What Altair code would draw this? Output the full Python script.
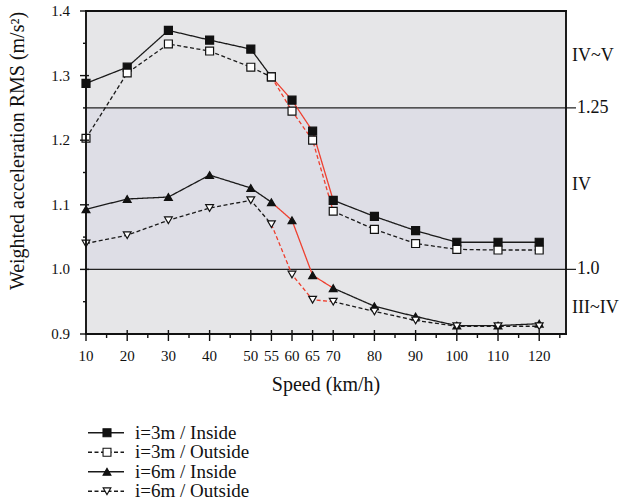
import altair as alt
import pandas as pd

# ---------------- data ----------------
speeds = [10, 20, 30, 40, 50, 55, 60, 65, 70, 80, 90, 100, 110, 120]
in3 = [1.288, 1.313, 1.370, 1.355, 1.341, 1.298, 1.262, 1.214, 1.107, 1.082, 1.060, 1.042, 1.042, 1.042]
out3 = [1.203, 1.304, 1.349, 1.338, 1.313, 1.298, 1.245, 1.200, 1.090, 1.062, 1.040, 1.031, 1.030, 1.030]
in6 = [1.093, 1.109, 1.112, 1.146, 1.126, 1.104, 1.076, 0.991, 0.971, 0.943, 0.927, 0.913, 0.913, 0.916]
out6 = [1.040, 1.053, 1.076, 1.095, 1.107, 1.070, 0.992, 0.953, 0.950, 0.935, 0.921, 0.912, 0.912, 0.912]
series_names = ["i=3m / Inside", "i=3m / Outside", "i=6m / Inside", "i=6m / Outside"]
series_values = [in3, out3, in6, out6]
highlight_range = (55, 70)

limit_values = [1.25, 1.0]
limit_labels = ["1.25", "1.0"]
zone_labels = ["IV~V", "IV", "III~IV"]
zone_label_y = [1.33, 1.13, 0.94]
zone_bounds = [(1.25, 1.4), (1.0, 1.25), (0.9, 1.0)]
zone_kind = ["outer", "middle", "outer"]

x_major = [10, 20, 30, 40, 50, 55, 60, 65, 70, 80, 90, 100, 110, 120]
x_minor = [15, 25, 35, 45, 75, 85, 95, 105, 115, 125]
y_major = [0.9, 1.0, 1.1, 1.2, 1.3, 1.4]
y_major_labels = ["0.9", "1.0", "1.1", "1.2", "1.3", "1.4"]
y_minor = [0.95, 1.05, 1.15, 1.25, 1.35]
x_title = "Speed (km/h)"
y_title = "Weighted acceleration RMS (m/s²)"

# ---------------- tables ----------------
rows = []
for name, vals in zip(series_names, series_values):
    for s, v in zip(speeds, vals):
        if s <= highlight_range[0]:
            rows.append(dict(series=name, seg=name + "-a", part="normal", speed=s, value=v))
        if highlight_range[0] <= s <= highlight_range[1]:
            rows.append(dict(series=name, seg=name + "-b", part="red", speed=s, value=v))
        if s >= highlight_range[1]:
            rows.append(dict(series=name, seg=name + "-c", part="normal", speed=s, value=v))
lines_df = pd.DataFrame(rows)

pts_df = pd.DataFrame(
    [dict(series=n, speed=s, value=v) for n, vals in zip(series_names, series_values) for s, v in zip(speeds, vals)]
)
zones_df = pd.DataFrame(dict(lo=[b[0] for b in zone_bounds], hi=[b[1] for b in zone_bounds], kind=zone_kind))
limits_df = pd.DataFrame(dict(value=limit_values, label=limit_labels))
zone_text_df = pd.DataFrame(dict(value=zone_label_y, label=zone_labels))
legend_df = pd.DataFrame(dict(series=series_names))
one_df = pd.DataFrame(dict(k=[0]))
xmaj_df = pd.DataFrame(dict(v=x_major, label=[str(v) for v in x_major]))
xmin_df = pd.DataFrame(dict(v=x_minor))
ymaj_df = pd.DataFrame(dict(v=y_major, label=y_major_labels))
ymin_df = pd.DataFrame(dict(v=y_minor))

W, H = 480, 323
FONT = "Liberation Serif"
INK = "#111111"

shape_scale = alt.Scale(domain=series_names, range=["square", "square", "triangle-up", "triangle-down"])
fill_scale = alt.Scale(domain=series_names, range=["#111111", "white", "#111111", "white"])
size_scale = alt.Scale(domain=series_names, range=[64, 60, 100, 95])
dash_scale = alt.Scale(domain=series_names, range=[[1, 0], [4, 2.5], [1, 0], [4, 2.5]])
width_scale = alt.Scale(domain=series_names, range=[1.3, 1.3, 1.8, 1.3])

xscale = alt.Scale(domain=[10, 126.5], nice=False, zero=False)
yscale = alt.Scale(domain=[0.9, 1.4], nice=False, zero=False)


def X(f):
    return alt.X(f, scale=xscale, axis=None)


def Y(f):
    return alt.Y(f, scale=yscale, axis=None)


bands = alt.Chart(zones_df).mark_rect().encode(
    x=alt.value(0),
    x2=alt.value(W),
    y=Y("lo:Q"),
    y2="hi:Q",
    fill=alt.Fill("kind:N", scale=alt.Scale(domain=["outer", "middle"], range=["#e6e6e8", "#dedee6"]), legend=None),
)

limit_rules = alt.Chart(limits_df).mark_rule(color="#222222", strokeWidth=1.4).encode(
    x=alt.value(0), x2=alt.value(W + 10), y=Y("value:Q")
)
limit_text = alt.Chart(limits_df).mark_text(
    align="left", baseline="middle", font=FONT, fontSize=18, color=INK
).encode(x=alt.value(W + 11), y=Y("value:Q"), text="label:N")
zone_text = alt.Chart(zone_text_df).mark_text(
    align="left", baseline="middle", font=FONT, fontSize=18, color=INK
).encode(x=alt.value(W + 6), y=Y("value:Q"), text="label:N")

lines = alt.Chart(lines_df).mark_line().encode(
    x=X("speed:Q"),
    y=Y("value:Q"),
    detail="seg:N",
    color=alt.Color("part:N", scale=alt.Scale(domain=["normal", "red"], range=["#1a1a1a", "#ee4030"]), legend=None),
    strokeDash=alt.StrokeDash("series:N", scale=dash_scale, legend=None),
    strokeWidth=alt.StrokeWidth("series:N", scale=width_scale, legend=None),
    order="speed:Q",
)

points = alt.Chart(pts_df).mark_point(filled=True, stroke="#111111", strokeWidth=1.2, opacity=1).encode(
    x=X("speed:Q"),
    y=Y("value:Q"),
    shape=alt.Shape("series:N", scale=shape_scale, legend=None),
    fill=alt.Fill("series:N", scale=fill_scale, legend=None),
    size=alt.Size("series:N", scale=size_scale, legend=None),
)

# frame (edges tied to the scale domain ends)
edge_x_df = pd.DataFrame(dict(v=[10, 126.5]))
edge_y_df = pd.DataFrame(dict(v=[0.9, 1.4]))
frame_h = alt.Chart(edge_y_df).mark_rule(color=INK, strokeWidth=1.9).encode(
    y=Y("v:Q"), x=alt.value(-1), x2=alt.value(W + 1)
)
frame_v = alt.Chart(edge_x_df).mark_rule(color=INK, strokeWidth=1.9).encode(
    x=X("v:Q"), y=alt.value(0), y2=alt.value(H)
)

# ticks
xt_major = alt.Chart(xmaj_df).mark_rule(color=INK, strokeWidth=1.4).encode(
    x=X("v:Q"), y=alt.value(H - 4), y2=alt.value(H + 7)
)
xt_minor = alt.Chart(xmin_df).mark_rule(color=INK, strokeWidth=1.4).encode(
    x=X("v:Q"), y=alt.value(H), y2=alt.value(H + 4)
)
xt_labels = alt.Chart(xmaj_df).mark_text(
    baseline="middle", align="center", font=FONT, fontSize=15, color=INK
).encode(x=X("v:Q"), y=alt.value(H + 22), text="label:N")

yt_major = alt.Chart(ymaj_df).mark_rule(color=INK, strokeWidth=1.4).encode(
    y=Y("v:Q"), x=alt.value(-6), x2=alt.value(3)
)
yt_minor = alt.Chart(ymin_df).mark_rule(color=INK, strokeWidth=1.4).encode(
    y=Y("v:Q"), x=alt.value(-3), x2=alt.value(0)
)
yt_labels = alt.Chart(ymaj_df).mark_text(
    baseline="middle", align="right", font=FONT, fontSize=15, color=INK
).encode(y=Y("v:Q"), x=alt.value(-16), text="label:N")

xtitle = alt.Chart(one_df).mark_text(
    baseline="middle", align="center", font=FONT, fontSize=20, color=INK, text=x_title
).encode(x=alt.value(W / 2), y=alt.value(H + 51))
ytitle = alt.Chart(one_df).mark_text(
    baseline="middle", align="center", font=FONT, fontSize=20, color=INK, angle=270, text=y_title
).encode(x=alt.value(-68), y=alt.value(140))

main = alt.layer(
    bands, limit_rules, lines, points,
    frame_h, frame_v,
    xt_major, xt_minor, xt_labels, yt_major, yt_minor, yt_labels,
    xtitle, ytitle, limit_text, zone_text,
).resolve_scale(fill="independent").properties(
    width=W, height=H, view=alt.ViewBackground(stroke="transparent")
)

ly = alt.Y("series:N", sort=series_names, scale=alt.Scale(domain=series_names), axis=None)
leg_lines = alt.Chart(legend_df).mark_rule(color="#1a1a1a").encode(
    x=alt.value(2), x2=alt.value(38), y=ly,
    strokeDash=alt.StrokeDash("series:N", scale=dash_scale, legend=None),
    strokeWidth=alt.StrokeWidth("series:N", scale=width_scale, legend=None),
)
leg_pts = alt.Chart(legend_df).mark_point(filled=True, stroke="#111111", strokeWidth=1.1, opacity=1).encode(
    x=alt.value(21), y=ly,
    shape=alt.Shape("series:N", scale=shape_scale, legend=None),
    fill=alt.Fill("series:N", scale=fill_scale, legend=None),
    size=alt.Size("series:N", scale=alt.Scale(domain=series_names, range=[40, 40, 70, 70]), legend=None),
)
leg_text = alt.Chart(legend_df).mark_text(
    align="left", baseline="middle", font=FONT, fontSize=19, color=INK
).encode(x=alt.value(49), y=ly, text="series:N")

legend = alt.layer(leg_lines, leg_pts, leg_text).properties(
    width=200, height=78, view=alt.ViewBackground(stroke="transparent")
)

chart = alt.vconcat(main, legend, spacing=26).properties(
    padding={"left": 7, "top": 3, "right": 5, "bottom": 5}
).configure(font=FONT).configure_view(stroke=None)

chart.save("out.html", embed_options={"renderer": "svg", "actions": False})
